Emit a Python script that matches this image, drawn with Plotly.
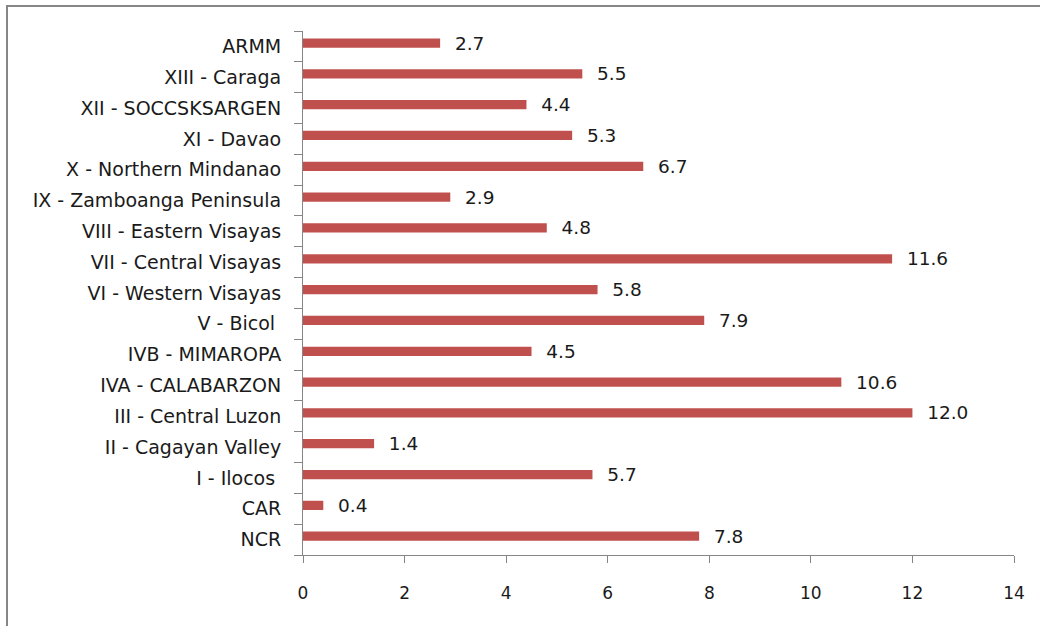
import plotly.graph_objects as go

regions = ["NCR", "CAR", "I - Ilocos\u00a0", "II - Cagayan Valley", "III - Central Luzon",
           "IVA - CALABARZON", "IVB - MIMAROPA", "V - Bicol\u00a0", "VI - Western Visayas",
           "VII - Central Visayas", "VIII - Eastern Visayas", "IX - Zamboanga Peninsula",
           "X - Northern Mindanao", "XI - Davao", "XII - SOCCSKSARGEN", "XIII - Caraga", "ARMM"]
values = [7.8, 0.4, 5.7, 1.4, 12.0, 10.6, 4.5, 7.9, 5.8, 11.6, 4.8, 2.9, 6.7, 5.3, 4.4, 5.5, 2.7]
x_ticks = [0, 2, 4, 6, 8, 10, 12, 14]

FONT = "DejaVu Sans"
TXT = "#1a1a1a"
fig = go.Figure()
fig.add_trace(go.Bar(
    y=regions, x=values, orientation="h",
    width=0.3, offset=-0.04,
    marker=dict(color="#C0504D", line=dict(width=0)),
    text=[f"{v:.1f}" for v in values],
    texttemplate="  %{text}",
    textposition="outside",
    constraintext="none",
    textfont=dict(family=FONT, size=18.5, color=TXT),
    cliponaxis=False,
))

fig.update_layout(
    width=1040, height=626,
    margin=dict(l=303, r=26, t=31, b=71, autoexpand=False),
    paper_bgcolor="white", plot_bgcolor="white",
    showlegend=False,
    font=dict(family=FONT, size=16, color=TXT),
    xaxis=dict(
        range=[0, 14], tickvals=x_ticks, showgrid=False, zeroline=False,
        showline=True, linecolor="#868686", linewidth=1,
        ticks="outside", ticklen=7, tickcolor="#868686",
        ticklabelstandoff=16, automargin=False,
        tickfont=dict(family=FONT, size=17, color=TXT),
    ),
    yaxis=dict(
        type="category", showgrid=False, zeroline=False,
        showline=True, linecolor="#868686", linewidth=1,
        ticks="outside", ticklen=8, tickcolor="#868686",
        tickson="boundaries", automargin=False,
        ticklabelstandoff=17,
        tickfont=dict(family=FONT, size=19, color=TXT),
    ),
    shapes=[dict(type="rect", xref="paper", yref="paper",
                 x0=(7 - 303) / 711, x1=1.6, y0=-0.5, y1=1 + (31 - 6) / 524,
                 line=dict(color="#868686", width=2), fillcolor="rgba(0,0,0,0)", layer="below")],
)

fig.write_html(
    "out.html",
    config={"displayModeBar": False},
    post_script="document.body.style.margin='0';document.body.style.padding='0';document.body.style.overflow='hidden';",
)
